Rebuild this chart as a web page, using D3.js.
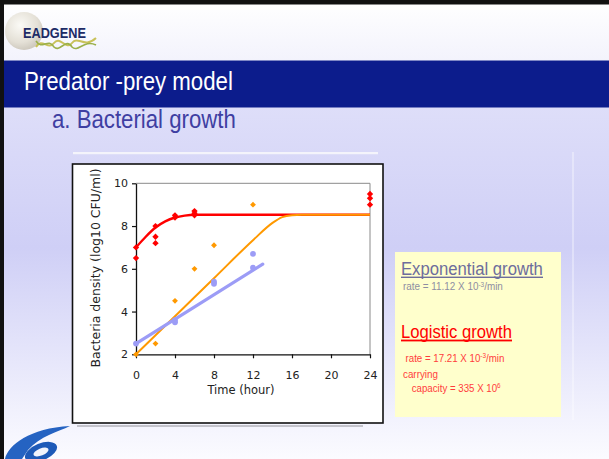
<!DOCTYPE html>
<html>
<head>
<meta charset="utf-8">
<script src="https://cdn.jsdelivr.net/npm/d3@7"></script>
<style>
  html, body { margin: 0; padding: 0; background: #fff; }
  svg { display: block; }
</style>
</head>
<body>
<svg id="slide" width="609" height="459"></svg>
<script>
// ---- Data -------------------------------------------------------------
const timeTicks = [0, 4, 8, 12, 16, 20, 24];
const densityTicks = [2, 4, 6, 8, 10];

// Observed counts, log10 CFU/ml
const predatorFreeTimes  = [0, 0, 2, 2, 2, 4, 4, 6, 6, 6, 24, 24, 24];
const predatorFreeValues = [7.0, 6.5, 8.0, 7.5, 7.2, 8.5, 8.4, 8.7, 8.6, 8.5, 9.5, 9.3, 9.0];

const logisticTimes  = [0, 2, 4, 6, 8, 12];
const logisticValues = [2.0, 2.5, 4.5, 6.0, 7.1, 9.0];

const exponentialTimes  = [0, 4, 4, 8, 8, 12, 12];
const exponentialValues = [2.5, 3.6, 3.5, 5.4, 5.3, 6.7, 6.05];

// Fitted curves
const redFitTimes  = [0, 1, 2, 3, 4, 5, 6, 24];
const redFitValues = [7.0, 7.5, 7.93, 8.22, 8.4, 8.49, 8.53, 8.53];

const orangeFitTimes  = [0, 4, 8, 12, 14, 15, 16, 17, 24];
const orangeFitValues = [2.0, 3.78, 5.56, 7.34, 8.15, 8.42, 8.51, 8.53, 8.53];

const blueFitTimes  = [0, 13];
const blueFitValues = [2.5, 6.22];

// ---- Slide frame ------------------------------------------------------
const svg = d3.select("#slide");
const defs = svg.append("defs");

const bg = defs.append("linearGradient").attr("id", "bodyGrad")
  .attr("x1", 0).attr("y1", 0).attr("x2", 0).attr("y2", 1);
bg.append("stop").attr("offset", "0%").attr("stop-color", "#dedef9");
bg.append("stop").attr("offset", "40%").attr("stop-color", "#cfcff6");
bg.append("stop").attr("offset", "100%").attr("stop-color", "#fbfbff");

const hd = defs.append("linearGradient").attr("id", "headGrad")
  .attr("x1", 0).attr("y1", 0).attr("x2", 0).attr("y2", 1);
hd.append("stop").attr("offset", "0%").attr("stop-color", "#ffffff");
hd.append("stop").attr("offset", "100%").attr("stop-color", "#f3f3fc");

const orb = defs.append("radialGradient").attr("id", "orbGrad")
  .attr("cx", "40%").attr("cy", "35%").attr("r", "65%");
orb.append("stop").attr("offset", "0%").attr("stop-color", "#fbfaf6");
orb.append("stop").attr("offset", "70%").attr("stop-color", "#e4e0d6");
orb.append("stop").attr("offset", "100%").attr("stop-color", "#cfcabf");

svg.append("rect").attr("x", 0).attr("y", 0).attr("width", 609).attr("height", 61)
  .attr("fill", "url(#headGrad)");
svg.append("rect").attr("x", 0).attr("y", 107).attr("width", 609).attr("height", 352)
  .attr("fill", "url(#bodyGrad)");
svg.append("rect").attr("x", 0).attr("y", 60.5).attr("width", 609).attr("height", 47)
  .attr("fill", "#0c1c8c");

// black frame on top and left
svg.append("rect").attr("x", 0).attr("y", 0).attr("width", 609).attr("height", 4.5).attr("fill", "#111");
svg.append("rect").attr("x", 0).attr("y", 0).attr("width", 4).attr("height", 459).attr("fill", "#111");

// Helper: squeeze a text element horizontally to a given width (narrow face look)
function fitWidth(sel, target) {
  const node = sel.node();
  const w = node.getBBox().width;
  const x0 = +sel.attr("x");
  const k = target / w;
  sel.attr("transform", `translate(${x0},0) scale(${k},1) translate(${-x0},0)`);
  return sel;
}

// ---- EADGENE logo ----
const logo = svg.append("g");
logo.append("circle").attr("cx", 24).attr("cy", 31).attr("r", 19).attr("fill", "url(#orbGrad)");
logo.append("path")
  .attr("d", "M36,47 C42,37 48,51 54,43 C60,35 66,51 72,43 C78,35 84,49 96,38")
  .attr("fill", "none").attr("stroke", "#c9c25a").attr("stroke-width", 2);
logo.append("path")
  .attr("d", "M36,41 C42,51 48,37 54,47 C60,53 66,37 72,47 C78,53 84,39 96,45")
  .attr("fill", "none").attr("stroke", "#9bb04a").attr("stroke-width", 1.6);
fitWidth(logo.append("text").attr("x", 23).attr("y", 38)
  .attr("font-family", "Liberation Sans, Arial, sans-serif").attr("font-weight", "bold")
  .attr("font-size", 15.5).attr("fill", "#1d2b66").text("EADGENE"), 63);

// ---- FP6 logo, bottom-left ----
const fp = svg.append("g");
fp.append("path")
  .attr("d", "M5,459 C8,445 30,428 70,426 C58,432 40,436 28,450 L22,459 Z")
  .attr("fill", "#2563c2");
fp.append("ellipse").attr("cx", 41).attr("cy", 452).attr("rx", 17).attr("ry", 8.5)
  .attr("transform", "rotate(-22,41,452)").attr("fill", "#1e5ab8");
fp.append("ellipse").attr("cx", 41).attr("cy", 452).attr("rx", 8).attr("ry", 3.6)
  .attr("transform", "rotate(-22,41,452)").attr("fill", "#f2f4fc");

// ---- Titles ----
fitWidth(svg.append("text").attr("x", 24).attr("y", 90.5)
  .attr("font-family", "Liberation Sans, Arial, sans-serif")
  .attr("font-size", 26).attr("fill", "#ffffff").text("Predator -prey model"), 209);
fitWidth(svg.append("text").attr("x", 52).attr("y", 128.5)
  .attr("font-family", "Liberation Sans, Arial, sans-serif")
  .attr("font-size", 25).attr("fill", "#3f3fa2").text("a. Bacterial growth"), 184);

// ---- Chart container ----
svg.append("rect").attr("x", 73).attr("y", 152).attr("width", 305).attr("height", 2.2)
  .attr("fill", "#f6f6fb").attr("opacity", 0.9);
svg.append("rect").attr("x", 77).attr("y", 425).attr("width", 286).attr("height", 2)
  .attr("fill", "#c4c4cc");
svg.append("rect").attr("x", 72.5).attr("y", 164).attr("width", 310.5).attr("height", 259)
  .attr("fill", "#ffffff").attr("stroke", "#111").attr("stroke-width", 1.6);

const x = d3.scaleLinear().domain([0, 24]).range([136, 370]);
const y = d3.scaleLinear().domain([2, 10]).range([354.3, 183.3]);

// plot frame (top/right)
svg.append("path")
  .attr("d", `M${x(0)},${y(10)} H${x(24)} V${y(2)}`)
  .attr("fill", "none").attr("stroke", "#8a8a8a").attr("stroke-width", 1);

const axisFont = "DejaVu Sans, Verdana, sans-serif";

const yAxis = svg.append("g").attr("transform", `translate(${x(0)},0)`)
  .call(d3.axisLeft(y).tickValues(densityTicks).tickSize(4).tickSizeOuter(0).tickPadding(4));
const xAxis = svg.append("g").attr("transform", `translate(0,${y(2)})`)
  .call(d3.axisBottom(x).tickValues(timeTicks).tickSize(4).tickSizeOuter(0).tickPadding(13));
[yAxis, xAxis].forEach(a => {
  a.select(".domain").attr("stroke", "#111").attr("stroke-width", 1.3);
  a.selectAll(".tick line").attr("stroke", "#111").attr("stroke-width", 1.2);
  a.selectAll("text").attr("font-family", axisFont).attr("font-size", 11).attr("fill", "#222");
});

svg.append("text").attr("x", 241).attr("y", 394)
  .attr("text-anchor", "middle").attr("font-family", axisFont).attr("font-size", 11.5)
  .attr("fill", "#222").text("Time (hour)");
svg.append("text")
  .attr("transform", "translate(100,268) rotate(-90)")
  .attr("text-anchor", "middle").attr("font-family", axisFont).attr("font-size", 11.5)
  .attr("fill", "#222").attr("textLength", 199).attr("lengthAdjust", "spacingAndGlyphs")
  .text("Bacteria density (log10 CFU/ml)");

// ---- Fitted curves ----
const line = d3.line().x(d => x(d[0])).y(d => y(d[1])).curve(d3.curveMonotoneX);
const zipPts = (ts, vs) => ts.map((t, i) => [t, vs[i]]);

svg.append("path").datum(zipPts(redFitTimes, redFitValues))
  .attr("d", line).attr("fill", "none").attr("stroke", "#ff0000").attr("stroke-width", 2.4);
svg.append("path").datum(zipPts(orangeFitTimes, orangeFitValues))
  .attr("d", line).attr("fill", "none").attr("stroke", "#ff9900").attr("stroke-width", 2);
svg.append("path").datum(zipPts(blueFitTimes, blueFitValues))
  .attr("d", d3.line().x(d => x(d[0])).y(d => y(d[1])))
  .attr("fill", "none").attr("stroke", "#9c9cf6").attr("stroke-width", 3.2)
  .attr("stroke-linecap", "round");

// ---- Observations ----
const diamond = d3.symbol().type(d3.symbolSquare).size(20);
svg.append("g").selectAll("path").data(zipPts(predatorFreeTimes, predatorFreeValues)).join("path")
  .attr("d", diamond).attr("fill", "#ff0000")
  .attr("transform", d => `translate(${x(d[0])},${y(d[1])}) rotate(45)`);
svg.append("g").selectAll("path").data(zipPts(logisticTimes, logisticValues)).join("path")
  .attr("d", d3.symbol().type(d3.symbolSquare).size(17)).attr("fill", "#ff9900")
  .attr("transform", d => `translate(${x(d[0])},${y(d[1])}) rotate(45)`);
svg.append("g").selectAll("circle").data(zipPts(exponentialTimes, exponentialValues)).join("circle")
  .attr("cx", d => x(d[0])).attr("cy", d => y(d[1])).attr("r", 2.9).attr("fill", "#9c9cf6");

// ---- Parameter box ----
svg.append("line").attr("x1", 573).attr("x2", 573).attr("y1", 152).attr("y2", 420)
  .attr("stroke", "#ffffff").attr("stroke-opacity", 0.35).attr("stroke-width", 2);
svg.append("rect").attr("x", 395).attr("y", 252).attr("width", 166).attr("height", 165)
  .attr("fill", "#ffffcc");

const boxFont = "Liberation Sans, Arial, sans-serif";
fitWidth(svg.append("text").attr("x", 401).attr("y", 275)
  .attr("font-family", boxFont).attr("font-size", 18.5).attr("fill", "#6d6d9c")
  .text("Exponential growth"), 142);
svg.append("rect").attr("x", 401).attr("y", 276.6).attr("width", 142).attr("height", 1.4).attr("fill", "#6d6d9c");

const r1 = svg.append("text").attr("x", 403).attr("y", 290.5)
  .attr("font-family", boxFont).attr("font-size", 10).attr("fill", "#8e8ea2");
r1.append("tspan").text("rate = 11.12 X 10");
r1.append("tspan").attr("font-size", 6.5).attr("dy", -3.5).text("-3");
r1.append("tspan").attr("dy", 3.5).text("/min");
fitWidth(r1, 100);

fitWidth(svg.append("text").attr("x", 401).attr("y", 338)
  .attr("font-family", boxFont).attr("font-size", 18.5).attr("fill", "#ff0000")
  .text("Logistic growth"), 111);
svg.append("rect").attr("x", 401).attr("y", 339.6).attr("width", 111).attr("height", 1.8).attr("fill", "#ff0000");

const r2 = svg.append("text").attr("x", 405.5).attr("y", 362.5)
  .attr("font-family", boxFont).attr("font-size", 11.5).attr("fill", "#ff3c3c");
r2.append("tspan").text("rate = 17.21 X 10");
r2.append("tspan").attr("font-size", 7.5).attr("dy", -4).text("-3");
r2.append("tspan").attr("dy", 4).text("/min");
fitWidth(r2, 99);

fitWidth(svg.append("text").attr("x", 403).attr("y", 378.5)
  .attr("font-family", boxFont).attr("font-size", 11.5).attr("fill", "#ff3c3c")
  .text("carrying"), 35);

const r3 = svg.append("text").attr("x", 411.7).attr("y", 392.3)
  .attr("font-family", boxFont).attr("font-size", 11.5).attr("fill", "#ff3c3c");
r3.append("tspan").text("capacity = 335 X 10");
r3.append("tspan").attr("font-size", 7.5).attr("dy", -4).text("6");
fitWidth(r3, 89);
</script>
</body>
</html>
